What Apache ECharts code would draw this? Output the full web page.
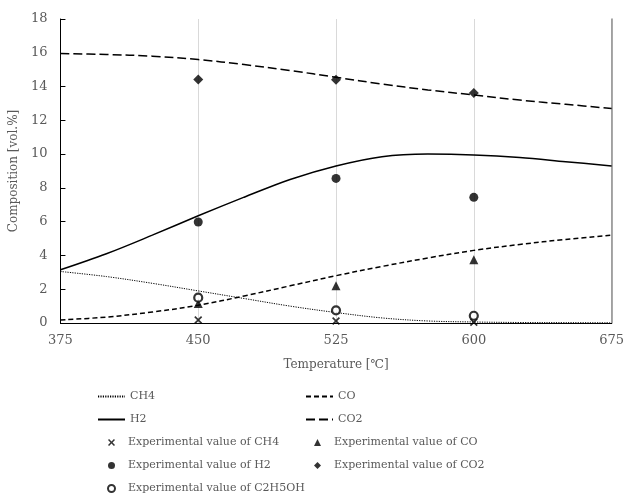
<!DOCTYPE html>
<html>
<head>
<meta charset="utf-8">
<script src="https://cdn.jsdelivr.net/npm/echarts@6/dist/echarts.min.js"></script>
<style>html,body{margin:0;padding:0;background:#fff}#c{width:627px;height:493px}</style>
</head>
<body>
<div id="c"></div>
<script>
// Temperatures for model curves
var temps = [375, 400, 425, 450, 475, 500, 525, 550, 575, 600, 625, 650, 675];
var ch4Model = [3.05, 2.75, 2.35, 1.9, 1.45, 1.0, 0.62, 0.3, 0.12, 0.06, 0.03, 0.02, 0.01];
var coModel  = [0.18, 0.35, 0.65, 1.05, 1.6, 2.2, 2.8, 3.35, 3.85, 4.3, 4.65, 4.95, 5.2];
var h2Model  = [3.15, 4.1, 5.2, 6.35, 7.45, 8.5, 9.3, 9.85, 10.0, 9.95, 9.8, 9.55, 9.3];
var co2Model = [15.95, 15.9, 15.8, 15.6, 15.3, 14.95, 14.55, 14.15, 13.8, 13.5, 13.2, 12.95, 12.7];

// Experimental temperatures and values
var expTemps = [450, 525, 600];
var ch4Exp = [0.18, 0.12, 0.04];
var coExp  = [1.15, 2.2, 3.75];
var h2Exp  = [5.98, 8.56, 7.44];
var co2Exp = [14.42, 14.4, 13.62];
var etohExp = [1.5, 0.75, 0.43];

var xTicks = [375, 450, 525, 600, 675];
var yTicks = [0, 2, 4, 6, 8, 10, 12, 14, 16, 18];

function pairs(xs, ys){ return xs.map(function(x,i){ return [x, ys[i]]; }); }

var FONT = 'DejaVu Serif';
var GREY = '#595959';
var xShape = 'path://M0,1.5L1.5,0L5,3.5L8.5,0L10,1.5L6.5,5L10,8.5L8.5,10L5,6.5L1.5,10L0,8.5L3.5,5Z';

var chart = echarts.init(document.getElementById('c'), null, {renderer:'canvas'});
function lineSeries(name, data, type, width){
  return {name:name, type:'line', data:pairs(temps, data), smooth:0.35, symbol:'none', showSymbol:false,
    lineStyle:{color:'#000', width:width, type:type}, itemStyle:{color:'#000'}, z:3};
}
function scatterSeries(name, data, symbol, size, style){
  return {name:name, type:'scatter', data:pairs(expTemps, data), symbol:symbol, symbolSize:size,
    itemStyle:style, z:5};
}
function lineLegendItem(n){ return {name:n, itemStyle:{opacity:0}}; }
var legTxt = {color:GREY, fontSize:11, fontFamily:FONT};
var mkTxt = {color:GREY, fontSize:11, fontFamily:FONT, padding:[0,0,0,8]};
var option = {
  animation:false,
  textStyle:{fontFamily:FONT},
  grid:{left:54, right:11, top:19, bottom:170, containLabel:false},
  xAxis:[{
    type:'value', min:xTicks[0], max:xTicks[xTicks.length-1], interval:75,
    name:'Temperature [℃]', nameLocation:'middle', nameGap:36,
    nameTextStyle:{color:GREY, fontSize:12, fontFamily:FONT},
    axisLine:{show:true, lineStyle:{color:'#000', width:1}},
    axisTick:{show:false},
    axisLabel:{color:GREY, fontSize:13, fontFamily:FONT, margin:11},
    splitLine:{show:true, lineStyle:{color:'#d9d9d9', width:1}}
  },{
    type:'value', position:'top', min:375, max:675, interval:75,
    axisLine:{show:true, lineStyle:{color:'#000', width:1}}, axisTick:{show:false}, axisLabel:{show:false}, splitLine:{show:false}
  }],
  yAxis:[{
    type:'value', min:yTicks[0], max:yTicks[yTicks.length-1], interval:2,
    name:'Composition [vol.%]', nameLocation:'middle', nameGap:37,
    nameTextStyle:{color:GREY, fontSize:12, fontFamily:FONT},
    axisLine:{show:true, lineStyle:{color:'#000', width:1}},
    axisTick:{show:true, inside:true, length:5, lineStyle:{color:'#000'}},
    axisLabel:{color:GREY, fontSize:13, fontFamily:FONT, margin:13},
    splitLine:{show:false}
  },{
    type:'value', position:'right', min:0, max:18, interval:2,
    axisLine:{show:true, lineStyle:{color:'#8c8c8c', width:1.5}}, axisTick:{show:false}, axisLabel:{show:false}, splitLine:{show:false}
  }],
  legend:[{
    orient:'vertical', left:97, top:391, height:60, padding:0, itemWidth:27, itemHeight:8, itemGap:12,
    textStyle:legTxt, data:[lineLegendItem('CH4'), lineLegendItem('H2')]
  },{
    orient:'vertical', left:305, top:391, height:60, padding:0, itemWidth:27, itemHeight:8, itemGap:12,
    textStyle:legTxt, data:[lineLegendItem('CO'), lineLegendItem('CO2')]
  },{
    orient:'vertical', left:107, top:437, height:100, padding:0, itemWidth:7, itemHeight:7, itemGap:12,
    textStyle:mkTxt, data:['Experimental value of CH4','Experimental value of H2','Experimental value of C2H5OH']
  },{
    orient:'vertical', left:314, top:437, height:100, padding:0, itemWidth:7, itemHeight:7, itemGap:12,
    textStyle:mkTxt, data:['Experimental value of CO','Experimental value of CO2']
  }],
  series:[
    lineSeries('CH4', ch4Model, [1.2,1.2], 1),
    lineSeries('CO', coModel, [5,3], 1.5),
    lineSeries('H2', h2Model, 'solid', 1.5),
    lineSeries('CO2', co2Model, [9,4], 1.5),
    scatterSeries('Experimental value of CH4', ch4Exp, xShape, 8, {color:'#000'}),
    scatterSeries('Experimental value of CO', coExp, 'triangle', 9, {color:'#000'}),
    scatterSeries('Experimental value of H2', h2Exp, 'circle', 9, {color:'#000'}),
    scatterSeries('Experimental value of CO2', co2Exp, 'diamond', 10, {color:'#000'}),
    scatterSeries('Experimental value of C2H5OH', etohExp, 'circle', 8, {color:'#fff', borderColor:'#000', borderWidth:2.2})
  ]
};
chart.setOption(option);
</script>
</body>
</html>
